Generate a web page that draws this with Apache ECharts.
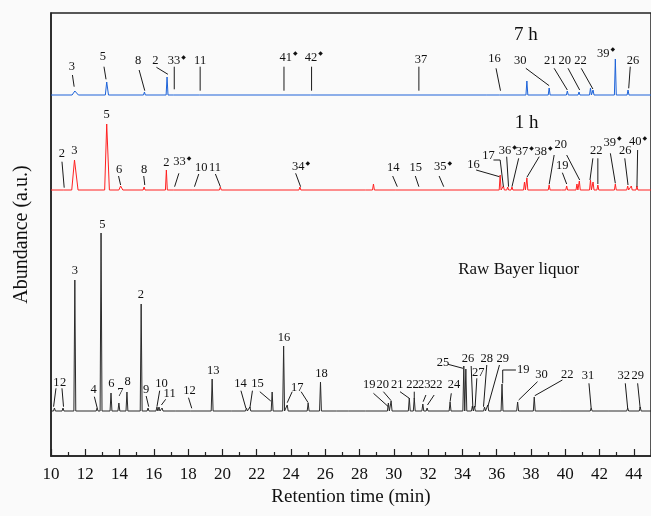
<!DOCTYPE html>
<html>
<head>
<meta charset="utf-8">
<script src="https://cdn.jsdelivr.net/npm/echarts/dist/echarts.min.js"></script>
<style>html,body{margin:0;padding:0;background:#fafafa;}#c{width:651px;height:516px;}</style>
</head>
<body>
<div id="c"></div>
<script>
// ---------- data ----------
const xTicks = [10,12,14,16,18,20,22,24,26,28,30,32,34,36,38,40,42,44];

// Raw Bayer liquor (black)
const rawTimes   = [10.2,10.7,11.39,12.69,12.92,13.5,13.96,14.43,15.26,15.66,16.18,16.3,16.48,17.3,18.18,19.4,20.6,21.4,21.6,22.9,23.57,23.78,25.0,25.72,26.7,27.4,28.4,29.68,29.84,30.9,31.19,31.69,31.94,33.28,34.08,34.2,34.58,34.7,35.29,35.48,36.31,37.22,38.19,39.8,41.51,42.6,43.64,44.37];
const rawHeights = [3,3,131,3,178,18,8,19,107,3,4,4,3,2,2,32,1,3,4,19,65,6,8,29,2,2,2,8,10,13,13,7,3,9,45,42,5,5,4,6,27,9,14,2,3,2,3,4];

// 1 h (red)
const h1Times   = [10.77,11.37,13.25,14.06,15.43,16.73,17.19,18.33,19.88,24.52,28.4,28.81,30.16,31.46,32.87,33.74,36.2,36.39,36.64,36.89,37.62,37.76,39.06,39.83,40.08,40.68,40.82,41.47,41.62,41.9,42.92,43.64,43.85,44.18];
const h1Heights = [2,30,66,4,3,20,2,2,3,3,1,6,2,2,2,2,15,4,3,3,8,12,5,2,4,6,9,10,8,5,6,4,4,4];

// 7 h (blue)
const h7Times   = [11.39,13.25,14.02,15.45,16.77,17.19,18.72,23.59,25.2,31.46,35.44,36.22,37.76,39.06,40.12,40.8,41.47,41.62,42.92,43.66];
const h7Heights = [4,13,1,3,18,1,1,1,2,2,1,2,14,7,4,3,7,5,36,5];

// broader peaks: time -> half width (min)
const h1Broad = {11.37:0.16, 13.25:0.12, 14.06:0.1};
const h7Broad = {11.39:0.16, 13.25:0.08};

// peak labels: [text ('*' = diamond), x, y, leader polylines]
const h7Labels = [
 ['3',11.22,389.3,[[[11.25,381],[11.35,369.3]]]],
 ['5',13.02,399.3,[[[13.09,389.3],[13.21,376.7]]]],
 ['8',15.08,395.3,[[[15.14,386],[15.47,365.3]]]],
 ['2',16.09,395.3,[[[16.15,388.7],[16.82,381.7]]]],
 ['33*',17.17,395.3,[[[17.19,389.3],[17.19,366.7]]]],
 ['11',18.70,395.3,[[[18.70,389.3],[18.70,365.3]]]],
 ['41*',23.69,398.7,[[[23.59,389.3],[23.59,365.3]]]],
 ['42*',25.17,398.7,[[[25.20,389.3],[25.20,365.3]]]],
 ['37',31.58,396.7,[[[31.46,389.3],[31.46,365.3]]]],
 ['16',35.87,397.7,[[[35.96,387.7],[36.22,365.3]]]],
 ['30',37.38,395.3,[[[37.70,387.7],[39.06,370.3]]]],
 ['21',39.12,395.3,[[[39.35,387.7],[40.12,366]]]],
 ['20',39.97,395.3,[[[40.16,387.7],[40.84,366]]]],
 ['22',40.89,395.3,[[[40.93,387.7],[41.61,367]]]],
 ['39*',42.21,402.7,[]],
 ['26',43.95,395.3,[[[43.79,389.3],[43.70,367.7]]]]
];
const h1Labels = [
 ['2',10.64,302.7,[[[10.64,294.3],[10.77,268.3]]]],
 ['3',11.37,305,[]],
 ['5',13.25,341,[]],
 ['6',13.98,286.7,[[[13.94,280],[14.06,271]]]],
 ['8',15.43,286,[[[15.41,280],[15.47,271]]]],
 ['2',16.73,293.3,[]],
 ['33*',17.50,294.3,[[[17.46,282.7],[17.21,269.3]]]],
 ['10',18.76,288.7,[[[18.62,282],[18.37,269.3]]]],
 ['11',19.57,288.7,[[[19.59,282],[19.88,269.3]]]],
 ['34*',24.42,289.3,[[[24.27,282.7],[24.56,269.3]]]],
 ['14',29.97,288.7,[[[29.93,280],[30.20,269.3]]]],
 ['15',31.27,288.7,[[[31.25,280],[31.46,269.3]]]],
 ['35*',32.71,289.3,[[[32.64,280],[32.91,269.3]]]],
 ['16',34.65,291,[[[34.80,286],[36.16,279.3]]]],
 ['17',35.52,300.3,[[[35.81,296],[36.20,296],[36.39,269.3]]]],
 ['36*',36.49,305,[[[36.58,299.3],[36.69,269.3]]]],
 ['37*',37.47,304.3,[[[37.28,297.7],[36.89,269.3]]]],
 ['38*',38.57,304.3,[[[38.48,299.3],[37.76,278.7]]]],
 ['20',39.73,311,[[[39.35,301],[39.06,271.7]],[[40.08,301],[40.84,276]]]],
 ['19',39.83,290,[[[39.83,283.3],[40.08,272]]]],
 ['22',41.80,305.3,[[[41.61,297.7],[41.44,276]],[[41.90,297.7],[41.90,272]]]],
 ['39*',42.60,313.7,[[[42.63,302.7],[42.92,272.7]]]],
 ['26',43.50,305,[[[43.47,297.7],[43.66,271]]]],
 ['40*',44.08,314.3,[[[44.22,306],[44.18,269.3]]]]
];
const rawLabels = [
 ['1',10.31,73.3,[[[10.29,67.7],[10.15,49.3]]]],
 ['2',10.70,73.3,[[[10.64,67.7],[10.73,49.3]]]],
 ['3',11.39,185.3,[]],
 ['4',12.49,66,[[[12.53,59.3],[12.70,47.7]]]],
 ['5',12.99,231.7,[]],
 ['6',13.52,72.7,[]],
 ['7',14.04,63.3,[]],
 ['8',14.47,74.7,[]],
 ['2',15.24,161,[]],
 ['9',15.55,66,[[[15.55,60],[15.70,49.3]]]],
 ['10',16.44,72,[[[16.34,65.3],[16.18,49.3]]]],
 ['11',16.92,62,[[[16.69,56.7],[16.44,51]]]],
 ['12',18.08,65,[[[18.02,58.3],[18.21,47.7]]]],
 ['13',19.47,85.3,[]],
 ['14',21.06,72,[[[21.08,65.3],[21.37,47.7]]]],
 ['15',22.04,72,[[[21.75,65.3],[21.60,47.7]],[[22.18,64.3],[22.82,55]]]],
 ['16',23.59,118.7,[]],
 ['17',24.36,68.7,[[[24.07,64.3],[23.78,53.3]],[[24.59,64.3],[25.0,53.3]]]],
 ['18',25.78,82.7,[]],
 ['19',28.56,71.7,[[[28.81,62.7],[29.68,49.3]]]],
 ['20',29.35,71.7,[[[29.39,64.3],[29.84,55.3]]]],
 ['21',30.20,71.7,[[[30.36,64.3],[30.90,57.7]]]],
 ['22',31.09,71.7,[[[31.19,64.3],[31.19,57.7]]]],
 ['23',31.77,71.7,[[[31.87,61],[31.71,54.3]]]],
 ['22',32.48,71.7,[[[32.35,61],[31.96,51]]]],
 ['24',33.51,71.7,[[[33.35,62.7],[33.28,54.3]]]],
 ['25',32.87,93.7,[[[33.16,91.7],[34.03,87.7]]]],
 ['26',34.32,97,[[[34.51,90],[34.61,47.7]]]],
 ['27',34.92,83.3,[[[34.84,77.7],[34.74,48.7]]]],
 ['28',35.42,97,[[[35.42,91],[35.23,49.3]]]],
 ['29',36.35,97,[[[36.16,91],[35.48,49.3]]]],
 ['19',37.55,86.7,[[[37.12,86],[36.35,86],[36.35,72.7]]]],
 ['30',38.61,81,[[[38.38,74.3],[37.28,56]]]],
 ['22',40.12,81,[[[39.83,76],[38.22,60.3]]]],
 ['31',41.32,80,[[[41.38,72.7],[41.51,47.7]]]],
 ['32',43.41,80,[[[43.50,72.7],[43.64,47.7]]]],
 ['29',44.22,80,[[[44.22,72.7],[44.37,47.7]]]]
];
const titles = [['7 h',37.70,421,19],['1 h',37.75,332.7,19],['Raw Bayer liquor',37.28,186,17]];

// ---------- layout / style ----------
const RAW_BASE = 45, H1_BASE = 266, H7_BASE = 361;
const X_MIN = 10, X_MAX = 45, HALF_W = 0.055;
const SERIF = '"Liberation Serif","Times New Roman",serif';

function trace(times, heights, base, broad) {
  const pts = [[X_MIN, base]];
  times.forEach((t, i) => {
    const w = (broad && broad[t]) || HALF_W;
    pts.push([t - w, base], [t, base + heights[i]], [t + w * (broad && broad[t] ? 1.3 : 1), base]);
  });
  pts.push([X_MAX, base]);
  return pts;
}

const allLabels = [];
[h7Labels, h1Labels, rawLabels].forEach(list => list.forEach(a => allLabels.push({text:a[0], x:a[1], y:a[2], lines:a[3], size:12.5})));
titles.forEach(a => allLabels.push({text:a[0], x:a[1], y:a[2], lines:[], size:a[3]}));

function renderLabel(params, api) {
  const a = allLabels[params.dataIndex];
  const children = [];
  a.lines.forEach(pl => children.push({
    type:'polyline', silent:true,
    shape:{points: pl.map(p => api.coord(p))},
    style:{stroke:'#1a1a1a', lineWidth:1, fill:null}
  }));
  const c = api.coord([a.x, a.y]);
  const star = a.text.endsWith('*');
  const num = star ? a.text.slice(0, -1) : a.text;
  children.push({
    type:'text', silent:true,
    x: star ? c[0] - num.length * a.size * 0.25 : c[0], y: c[1],
    style:{
      text: star ? num + '{d|◆}' : num,
      fill:'#111', fontSize:a.size, fontFamily:SERIF,
      align: star ? 'left' : 'center', verticalAlign:'middle',
      rich:{d:{fontSize:6, fontFamily:'DejaVu Sans', fill:'#111', verticalAlign:'top', padding:[0,0,0,1]}}
    }
  });
  return {type:'group', children};
}

const chart = echarts.init(document.getElementById('c'), null, {renderer:'canvas'});
chart.setOption({
  animation:false,
  backgroundColor:'#fafafa',
  grid:{left:51, right:-3, top:13, bottom:60, show:true, borderColor:'#222', borderWidth:1.5, backgroundColor:'transparent'},
  xAxis:{
    type:'value', min:X_MIN, max:X_MAX, interval:2,
    axisLine:{lineStyle:{color:'#222', width:1.5}},
    axisTick:{inside:true, length:7, lineStyle:{color:'#222', width:1.2}},
    minorTick:{show:true, splitNumber:2, length:4, lineStyle:{color:'#222', width:1.2}},
    axisLabel:{fontFamily:SERIF, fontSize:17, color:'#111', margin:10, showMaxLabel:false,
      formatter: v => xTicks.indexOf(v) >= 0 ? String(v) : ''},
    splitLine:{show:false},
    name:'Retention time (min)', nameLocation:'middle', nameGap:31,
    nameTextStyle:{fontFamily:SERIF, fontSize:19, color:'#111'}
  },
  yAxis:{
    type:'value', min:0, max:443,
    axisLine:{show:true, lineStyle:{color:'#222', width:1.5}},
    axisTick:{show:false}, axisLabel:{show:false}, splitLine:{show:false},
    name:'Abundance (a.u.)', nameLocation:'middle', nameGap:19,
    nameTextStyle:{fontFamily:SERIF, fontSize:20, color:'#111'}
  },
  series:[
    {type:'line', data:trace(rawTimes, rawHeights, RAW_BASE), showSymbol:false, lineStyle:{color:'#2b2b2b', width:1}, itemStyle:{color:'#2b2b2b'}},
    {type:'line', data:trace(h1Times, h1Heights, H1_BASE, h1Broad), showSymbol:false, lineStyle:{color:'#ff2020', width:1}, itemStyle:{color:'#ff2020'}},
    {type:'line', data:trace(h7Times, h7Heights, H7_BASE, h7Broad), showSymbol:false, lineStyle:{color:'#1e63d8', width:1}, itemStyle:{color:'#1e63d8'}},
    {type:'custom', coordinateSystem:'cartesian2d', clip:false, z:5,
     data: allLabels.map(a => [a.x, a.y]), encode:{x:0, y:1}, renderItem:renderLabel}
  ]
});
</script>
</body>
</html>
